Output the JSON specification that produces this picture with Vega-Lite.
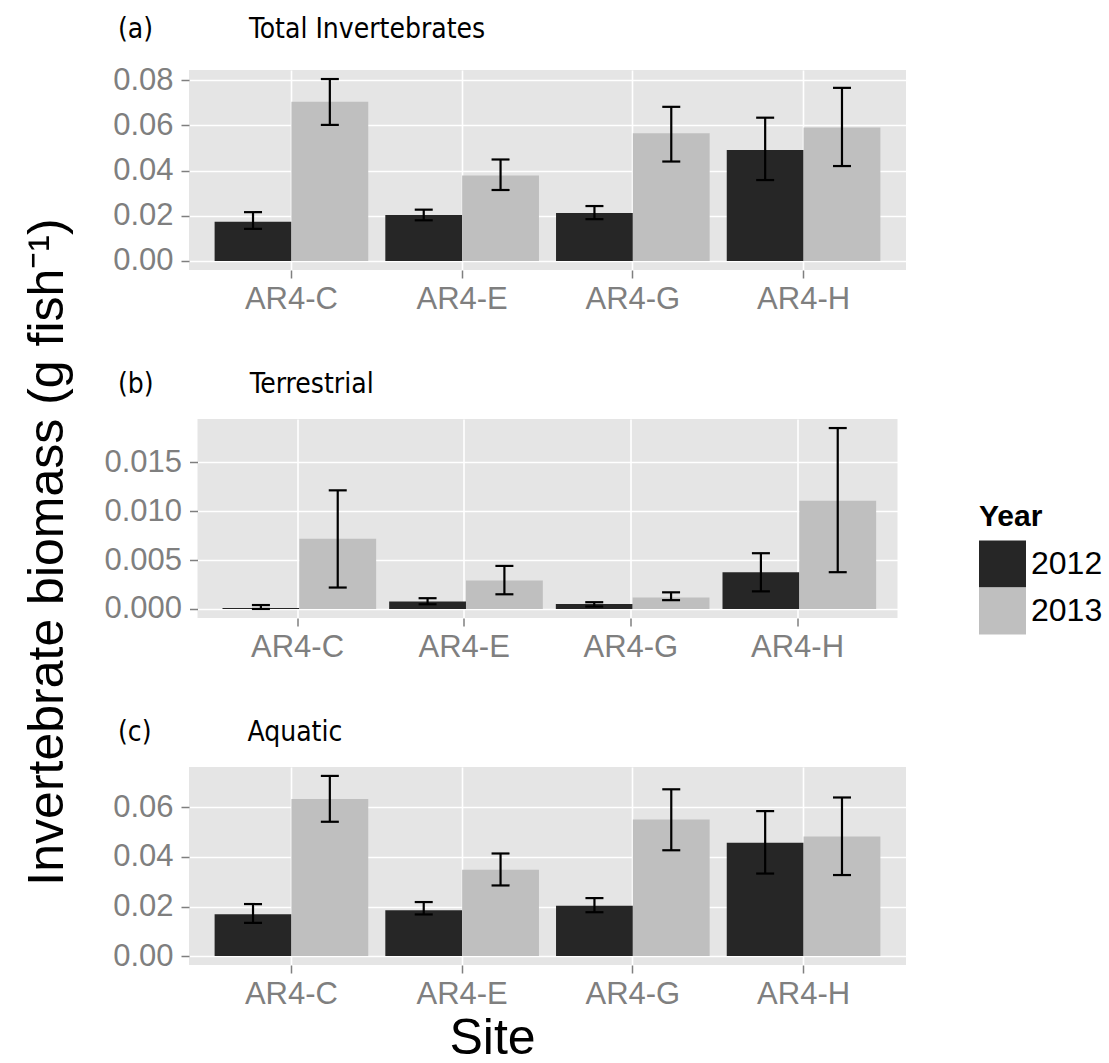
{
  "$schema": "https://vega.github.io/schema/vega-lite/v6.json",
  "autosize": {"type": "pad"},
  "padding": {"left": 22, "top": 16, "right": 5, "bottom": 0},
  "background": "white",
  "datasets": {
    "bio": [
      {"panel": "a", "Site": "AR4-C", "Year": "2012", "value": 0.0174, "lo": 0.0142, "hi": 0.0216},
      {"panel": "a", "Site": "AR4-C", "Year": "2013", "value": 0.0704, "lo": 0.0602, "hi": 0.0805},
      {"panel": "a", "Site": "AR4-E", "Year": "2012", "value": 0.0203, "lo": 0.0180, "hi": 0.0227},
      {"panel": "a", "Site": "AR4-E", "Year": "2013", "value": 0.0378, "lo": 0.0314, "hi": 0.0449},
      {"panel": "a", "Site": "AR4-G", "Year": "2012", "value": 0.0212, "lo": 0.0185, "hi": 0.0243},
      {"panel": "a", "Site": "AR4-G", "Year": "2013", "value": 0.0565, "lo": 0.0440, "hi": 0.0682},
      {"panel": "a", "Site": "AR4-H", "Year": "2012", "value": 0.0491, "lo": 0.0358, "hi": 0.0634},
      {"panel": "a", "Site": "AR4-H", "Year": "2013", "value": 0.0591, "lo": 0.0420, "hi": 0.0766},
      {"panel": "b", "Site": "AR4-C", "Year": "2012", "value": 0.0001, "lo": 0.0000, "hi": 0.0004},
      {"panel": "b", "Site": "AR4-C", "Year": "2013", "value": 0.00717, "lo": 0.00219, "hi": 0.01213},
      {"panel": "b", "Site": "AR4-E", "Year": "2012", "value": 0.00076, "lo": 0.00048, "hi": 0.0011},
      {"panel": "b", "Site": "AR4-E", "Year": "2013", "value": 0.0029, "lo": 0.0015, "hi": 0.0044},
      {"panel": "b", "Site": "AR4-G", "Year": "2012", "value": 0.00051, "lo": 0.00025, "hi": 0.00069},
      {"panel": "b", "Site": "AR4-G", "Year": "2013", "value": 0.00117, "lo": 0.0009, "hi": 0.0017},
      {"panel": "b", "Site": "AR4-H", "Year": "2012", "value": 0.00376, "lo": 0.0018, "hi": 0.0057},
      {"panel": "b", "Site": "AR4-H", "Year": "2013", "value": 0.01107, "lo": 0.00376, "hi": 0.0185},
      {"panel": "c", "Site": "AR4-C", "Year": "2012", "value": 0.0169, "lo": 0.0134, "hi": 0.0210},
      {"panel": "c", "Site": "AR4-C", "Year": "2013", "value": 0.0634, "lo": 0.0542, "hi": 0.0727},
      {"panel": "c", "Site": "AR4-E", "Year": "2012", "value": 0.0185, "lo": 0.0168, "hi": 0.0218},
      {"panel": "c", "Site": "AR4-E", "Year": "2013", "value": 0.0348, "lo": 0.0285, "hi": 0.0414},
      {"panel": "c", "Site": "AR4-G", "Year": "2012", "value": 0.0203, "lo": 0.0177, "hi": 0.0234},
      {"panel": "c", "Site": "AR4-G", "Year": "2013", "value": 0.0551, "lo": 0.0427, "hi": 0.0673},
      {"panel": "c", "Site": "AR4-H", "Year": "2012", "value": 0.0457, "lo": 0.0333, "hi": 0.0585},
      {"panel": "c", "Site": "AR4-H", "Year": "2013", "value": 0.0483, "lo": 0.0327, "hi": 0.0640}
    ]
  },
  "data": {"name": "bio"},
  "spacing": 149,
  "bounds": "flush",
  "center": true,
  "resolve": {"scale": {"color": "independent"}},
  "vconcat": [
    {
      "width": 717,
      "height": 200,
      "title": {"text": "(a)\u00a0\u00a0\u00a0\u00a0\u00a0\u00a0\u00a0\u00a0\u00a0\u00a0\u00a0\u00a0Total Invertebrates", "dx": -71},
      "transform": [{"filter": "datum.panel == 'a'"}],
      "encoding": {
        "x": {"field": "Site", "type": "nominal", "scale": {"paddingInner": 0.1, "paddingOuter": 0.15}, "axis": {"title": null, "labelAngle": 0, "bandPosition": 0.5, "grid": true, "labelPadding": 6}},
        "xOffset": {"field": "Year", "type": "nominal", "scale": {"paddingInner": 0, "paddingOuter": 0}}
      },
      "layer": [
        {
          "mark": {"type": "bar"},
          "encoding": {
            "y": {"field": "value", "type": "quantitative", "stack": null,
              "scale": {"domain": [-0.004, 0.0845], "nice": false, "zero": false},
              "axis": {"title": "Invertebrate biomass (g fish\u207b\u00b9)", "titlePadding": 40, "titleY": 481.5,
                "values": [0, 0.01, 0.02, 0.03, 0.04, 0.05, 0.06, 0.07, 0.08], "labelPadding": 8,
                "labelExpr": "round(datum.value*100) % 2 == 0 ? format(datum.value, '.2f') : ''",
                "tickOpacity": {"condition": {"test": "round(datum.value*100) % 2 == 0", "value": 1}, "value": 0},
                "gridColor": {"condition": {"test": "round(datum.value*100) % 2 == 0", "value": "#FFFFFF"}, "value": "#F2F2F2"},
                "gridWidth": {"condition": {"test": "round(datum.value*100) % 2 == 0", "value": 1.6}, "value": 1}}},
            "color": {"field": "Year", "type": "nominal", "scale": {"domain": ["2012", "2013"], "range": ["#262626", "#BFBFBF"]}, "legend": null}
          }
        },
        {
          "mark": {"type": "rule", "color": "#000000", "strokeWidth": 2.2},
          "encoding": {"y": {"field": "lo", "type": "quantitative"}, "y2": {"field": "hi"}}
        },
        {
          "mark": {"type": "tick", "orient": "horizontal", "color": "#000000", "size": 18, "thickness": 2.2, "opacity": 1},
          "encoding": {"y": {"field": "lo", "type": "quantitative"}}
        },
        {
          "mark": {"type": "tick", "orient": "horizontal", "color": "#000000", "size": 18, "thickness": 2.2, "opacity": 1},
          "encoding": {"y": {"field": "hi", "type": "quantitative"}}
        }
      ]
    },
    {
      "width": 700,
      "height": 199,
      "title": {"text": "(b)\u00a0\u00a0\u00a0\u00a0\u00a0\u00a0\u00a0\u00a0\u00a0\u00a0\u00a0\u00a0Terrestrial", "dx": -79.5},
      "transform": [{"filter": "datum.panel == 'b'"}],
      "encoding": {
        "x": {"field": "Site", "type": "nominal", "scale": {"paddingInner": 0.1, "paddingOuter": 0.15}, "axis": {"title": null, "labelAngle": 0, "bandPosition": 0.5, "grid": true, "labelPadding": 6}},
        "xOffset": {"field": "Year", "type": "nominal", "scale": {"paddingInner": 0, "paddingOuter": 0}}
      },
      "layer": [
        {
          "mark": {"type": "bar"},
          "encoding": {
            "y": {"field": "value", "type": "quantitative", "stack": null,
              "scale": {"domain": [-0.000925, 0.019425], "nice": false, "zero": false},
              "axis": {"title": null,
                "values": [0, 0.0025, 0.005, 0.0075, 0.01, 0.0125, 0.015, 0.0175], "labelPadding": 8,
                "labelExpr": "round(datum.value*1000) % 5 == 0 ? format(datum.value, '.3f') : ''",
                "tickOpacity": {"condition": {"test": "round(datum.value*1000) % 5 == 0", "value": 1}, "value": 0},
                "gridColor": {"condition": {"test": "round(datum.value*1000) % 5 == 0", "value": "#FFFFFF"}, "value": "#F2F2F2"},
                "gridWidth": {"condition": {"test": "round(datum.value*1000) % 5 == 0", "value": 1.6}, "value": 1}}},
            "color": {"field": "Year", "type": "nominal", "scale": {"domain": ["2012", "2013"], "range": ["#262626", "#BFBFBF"]},
              "legend": {"orient": "none", "legendX": 781.5, "legendY": 82.5, "direction": "vertical", "title": "Year",
                "titleFont": "Liberation Sans", "titleFontSize": 30, "titleFontWeight": "bold", "titleColor": "#000000", "titlePadding": 9,
                "labelFont": "Liberation Sans", "labelFontSize": 32, "labelColor": "#000000", "labelOffset": 5,
                "symbolType": "square", "symbolSize": 2209, "symbolStrokeWidth": 0, "symbolOpacity": 1, "rowPadding": 0, "padding": 0}}
          }
        },
        {
          "mark": {"type": "rule", "color": "#000000", "strokeWidth": 2.2},
          "encoding": {"y": {"field": "lo", "type": "quantitative", "title": null}, "y2": {"field": "hi"}}
        },
        {
          "mark": {"type": "tick", "orient": "horizontal", "color": "#000000", "size": 18, "thickness": 2.2, "opacity": 1},
          "encoding": {"y": {"field": "lo", "type": "quantitative", "title": null}}
        },
        {
          "mark": {"type": "tick", "orient": "horizontal", "color": "#000000", "size": 18, "thickness": 2.2, "opacity": 1},
          "encoding": {"y": {"field": "hi", "type": "quantitative", "title": null}}
        }
      ]
    },
    {
      "width": 717,
      "height": 198,
      "title": {"text": "(c)\u00a0\u00a0\u00a0\u00a0\u00a0\u00a0\u00a0\u00a0\u00a0\u00a0\u00a0\u00a0Aquatic", "dx": -71},
      "transform": [{"filter": "datum.panel == 'c'"}],
      "encoding": {
        "x": {"field": "Site", "type": "nominal", "scale": {"paddingInner": 0.1, "paddingOuter": 0.15}, "axis": {"title": "Site", "titleX": 303, "titlePadding": 4, "labelAngle": 0, "bandPosition": 0.5, "grid": true, "labelPadding": 6}},
        "xOffset": {"field": "Year", "type": "nominal", "scale": {"paddingInner": 0, "paddingOuter": 0}}
      },
      "layer": [
        {
          "mark": {"type": "bar"},
          "encoding": {
            "y": {"field": "value", "type": "quantitative", "stack": null,
              "scale": {"domain": [-0.0036, 0.0763], "nice": false, "zero": false},
              "axis": {"title": null, "values": [0, 0.01, 0.02, 0.03, 0.04, 0.05, 0.06, 0.07], "labelPadding": 8,
                "labelExpr": "round(datum.value*100) % 2 == 0 ? format(datum.value, '.2f') : ''",
                "tickOpacity": {"condition": {"test": "round(datum.value*100) % 2 == 0", "value": 1}, "value": 0},
                "gridColor": {"condition": {"test": "round(datum.value*100) % 2 == 0", "value": "#FFFFFF"}, "value": "#F2F2F2"},
                "gridWidth": {"condition": {"test": "round(datum.value*100) % 2 == 0", "value": 1.6}, "value": 1}}},
            "color": {"field": "Year", "type": "nominal", "scale": {"domain": ["2012", "2013"], "range": ["#262626", "#BFBFBF"]}, "legend": null}
          }
        },
        {
          "mark": {"type": "rule", "color": "#000000", "strokeWidth": 2.2},
          "encoding": {"y": {"field": "lo", "type": "quantitative", "title": null}, "y2": {"field": "hi"}}
        },
        {
          "mark": {"type": "tick", "orient": "horizontal", "color": "#000000", "size": 18, "thickness": 2.2, "opacity": 1},
          "encoding": {"y": {"field": "lo", "type": "quantitative", "title": null}}
        },
        {
          "mark": {"type": "tick", "orient": "horizontal", "color": "#000000", "size": 18, "thickness": 2.2, "opacity": 1},
          "encoding": {"y": {"field": "hi", "type": "quantitative", "title": null}}
        }
      ]
    }
  ],
  "config": {
    "view": {"fill": "#E5E5E5", "stroke": null},
    "font": "Liberation Sans",
    "axis": {
      "labelFont": "Liberation Sans", "labelFontSize": 31, "labelColor": "#7F7F7F",
      "tickColor": "#7F7F7F", "tickSize": 8, "tickWidth": 1.5, "domain": false,
      "gridColor": "#FFFFFF", "gridWidth": 1.6,
      "titleFont": "Liberation Sans", "titleFontSize": 50, "titleColor": "#000000", "titleFontWeight": "normal"
    },
    "title": {"anchor": "start", "frame": "group", "offset": 20, "baseline": "alphabetic",
      "font": "DejaVu Sans Condensed, sans-serif", "fontSize": 28, "fontWeight": "normal", "color": "#000000"}
  }
}
